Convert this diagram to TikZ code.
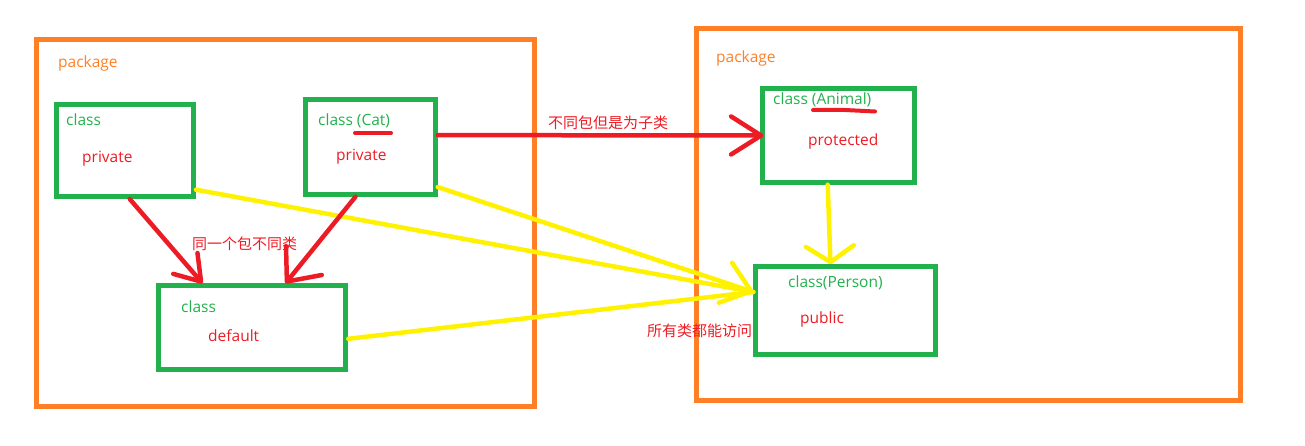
\documentclass[tikz,border=0pt]{standalone}
\usepackage{fontspec}
\setmainfont{Open Sans}
\newfontfamily\cjk{Noto Sans CJK SC}
\usetikzlibrary{arrows.meta}
\definecolor{pkgorange}{HTML}{FF7F27}
\definecolor{clsgreen}{HTML}{22B14C}
\definecolor{pred}{HTML}{ED1C24}
\definecolor{pyellow}{HTML}{FFF200}
\tikzset{
  pkg/.style={draw=pkgorange, line width=5pt},
  cls/.style={draw=clsgreen, line width=5pt, inner sep=0pt, minimum width=#1},
  txt/.style={anchor=base west, inner sep=0pt, font=\fontsize{15.5pt}{18pt}\selectfont},
  gtxt/.style={txt, text=clsgreen},
  rtxt/.style={txt, text=pred},
  otxt/.style={txt, text=pkgorange},
  ctxt/.style={txt, text=pred, font=\fontsize{15pt}{18pt}\selectfont\cjk},
  redarrow/.style={draw=pred, line width=4.5pt, line cap=round, line join=round},
  yelarrow/.style={draw=pyellow, line width=4.5pt, line cap=round, line join=round},
}
\begin{document}
\begin{tikzpicture}[x=1pt,y=-1pt]
\useasboundingbox (0,0) rectangle (1305,446);
% packages
\node[pkg, inner sep=0pt, minimum width=498pt, minimum height=366pt] (pkgL) at (285,223) {};
\node[pkg, inner sep=0pt, minimum width=544pt, minimum height=371pt] (pkgR) at (968,214.5) {};
\node[otxt] (pkgLt) at (58,67.5) {package};
\node[otxt] (pkgRt) at (716,62.5) {package};
% classes
\node[cls=137.4pt, minimum height=91.5pt] (p1) at (124.7,150.7) {};
\node[cls=129.4pt, minimum height=94.2pt] (cat) at (370.5,147.1) {};
\node[cls=187.8pt, minimum height=84pt] (def) at (251.9,327.8) {};
\node[cls=151.7pt, minimum height=93.4pt] (ani) at (838.7,135.5) {};
\node[cls=179.4pt, minimum height=87.4pt] (per) at (845.5,310.5) {};
% texts
\node[gtxt] (p1c) at (66,125.5) {class};
\node[rtxt] (p1p) at (82,162.5) {private};
\node[gtxt] (catc) at (318,125.5) {class (Cat)};
\node[rtxt] (catp) at (336,160.5) {private};
\node[gtxt] (defc) at (181,312.5) {class};
\node[rtxt] (defp) at (208,341.5) {default};
\node[gtxt] (anic) at (773,104.5) {class (Animal)};
\node[rtxt] (anip) at (808,145.5) {protected};
\node[gtxt] (perc) at (788,287.5) {class(Person)};
\node[rtxt] (perp) at (800,323.5) {public};
\node[ctxt] (lab1) at (548,129) {不同包但是为子类};
\node[ctxt] (lab2) at (192,250) {同一个包不同类};
\node[ctxt] (lab3) at (647,336) {所有类都能访问};
% underlines
\draw[redarrow, line width=4pt] (355,133) -- (391,133);
\draw[redarrow, line width=4pt] (813,110) -- (845,110) -- (875,111.5);
% yellow connectors
\draw[yelarrow] ([yshift=-39pt]p1.east) -- ([yshift=18.5pt]per.west);
\draw[yelarrow] ([yshift=-11pt]def.east) -- ([yshift=18.5pt]per.west);
\draw[yelarrow, -{Straight Barb[length=27pt,width=42pt,round]}] ([yshift=-40pt]cat.east) -- ([yshift=18.5pt]per.west);
\draw[yelarrow, -{Straight Barb[length=16pt,width=48pt,round]}] ([xshift=-11pt]ani.south) -- ([xshift=-15pt]per.north);
% red connectors
\draw[redarrow, -{Straight Barb[length=30pt,width=38pt,round]}] ([yshift=12pt]cat.east) -- ([xshift=3pt]ani.west);
\draw[redarrow, -{Straight Barb[length=24pt,width=32pt,round]}] ([xshift=5pt]p1.south) -- ([xshift=47pt]def.north west);
\draw[redarrow, -{Straight Barb[length=27pt,width=46pt,round]}] ([xshift=-15pt]cat.south) -- ([xshift=130pt]def.north west);
\end{tikzpicture}
\end{document}
